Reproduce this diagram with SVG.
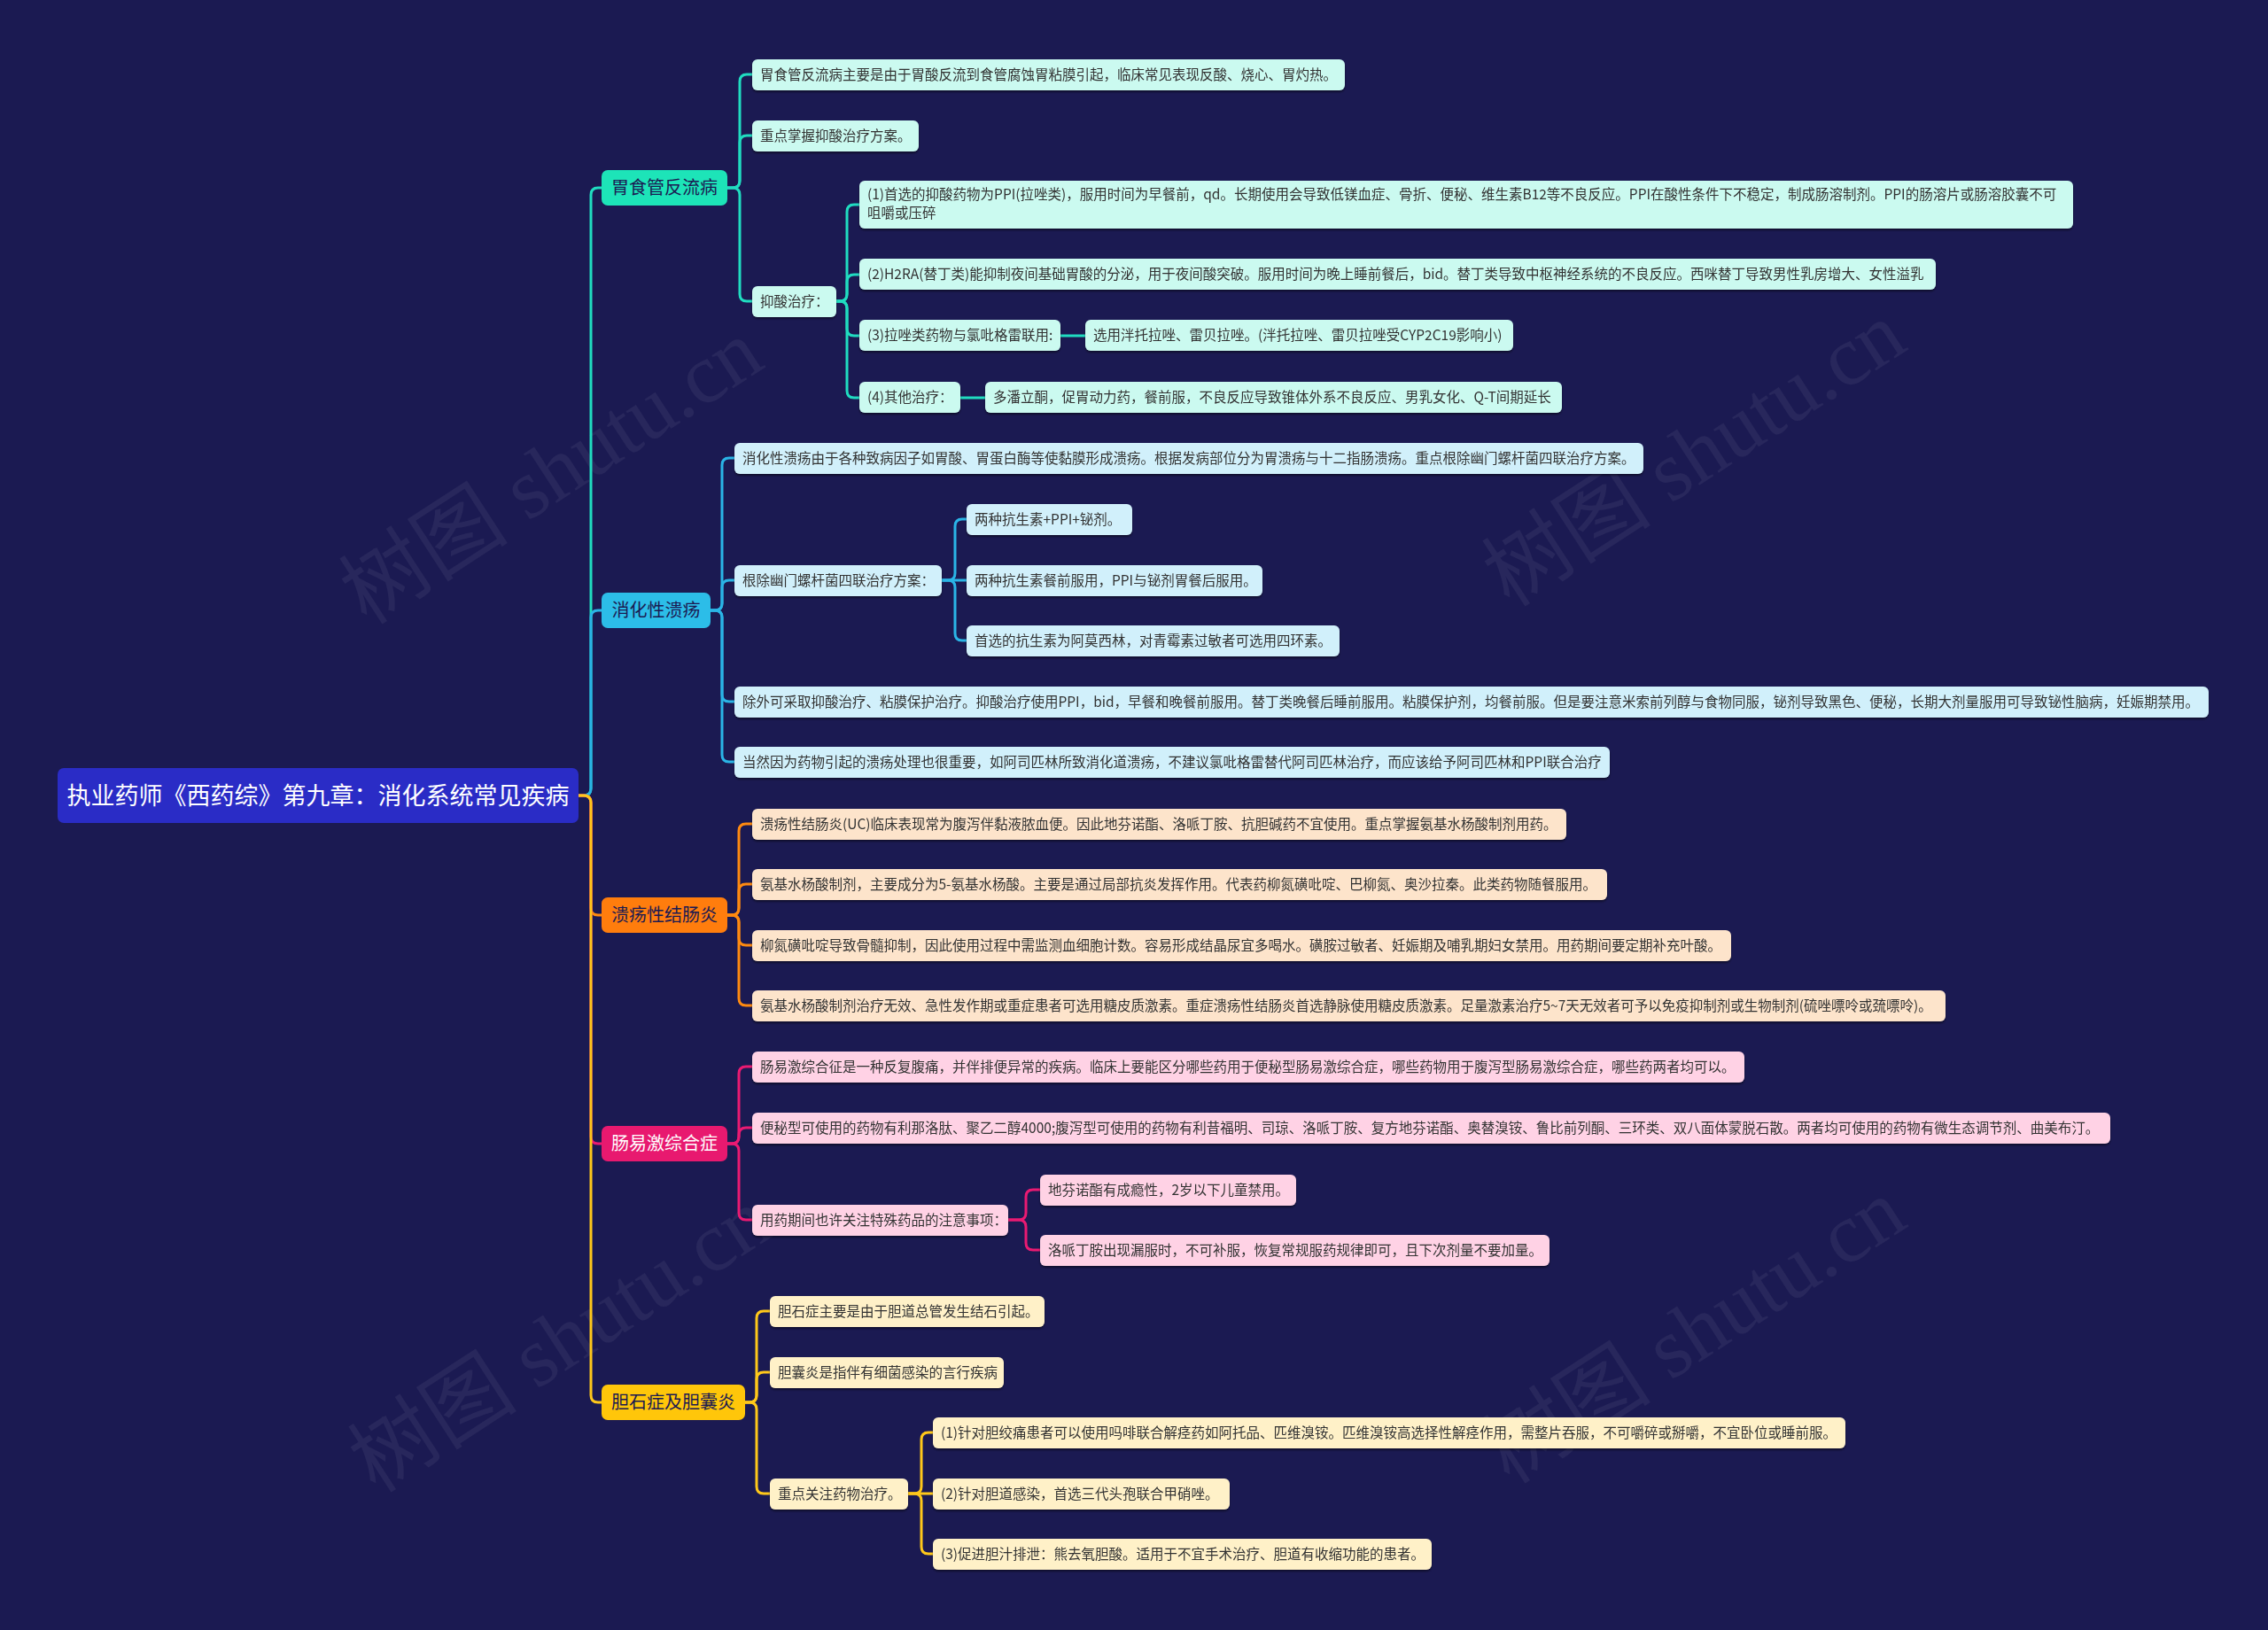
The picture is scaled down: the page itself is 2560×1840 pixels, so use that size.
<svg xmlns="http://www.w3.org/2000/svg" width="2560" height="1840" viewBox="0 0 2560 1840">
<defs>
<filter id="sh" x="-5%" y="-20%" width="110%" height="150%">
<feDropShadow dx="0" dy="2" stdDeviation="1" flood-color="#000" flood-opacity="0.45"/>
</filter>
<style>
.bg{fill:#1b1a52}
.wm{font-family:"Liberation Serif","Noto Sans CJK SC",serif;font-size:96px;fill:#ffffff;fill-opacity:0.06}
.t{font-family:"Noto Sans CJK SC","Noto Sans",sans-serif;font-size:15.5px;fill:#333333}
.bt{font-family:"Noto Sans CJK SC","Noto Sans",sans-serif;font-size:20px;text-anchor:middle}
.rt{font-family:"Noto Sans CJK SC","Noto Sans",sans-serif;font-size:27px;fill:#ffffff;text-anchor:middle}
.lf{filter:url(#sh)}
.c1 path,.c2 path,.c3 path,.c4 path,.c5 path{fill:none;stroke-width:3;stroke-linecap:round;stroke-linejoin:round}
.c1 path{stroke:#20dcc0}
.c2 path{stroke:#2ab4e6}
.c3 path{stroke:#ff8a10}
.c4 path{stroke:#ea1a72}
.c5 path{stroke:#ffc81a}
.f1{fill:#cbfaf0}
.f2{fill:#d1f0fb}
.f3{fill:#fde4cb}
.f4{fill:#ffd2e5}
.f5{fill:#fff1c8}
</style>
</defs>
<rect class="bg" x="0" y="0" width="2560" height="1840"/>
<g id="watermarks">
<text class="wm" transform="translate(640,560) rotate(-33)" text-anchor="middle">树图 shutu.cn</text>
<text class="wm" transform="translate(1930,540) rotate(-33)" text-anchor="middle">树图 shutu.cn</text>
<text class="wm" transform="translate(650,1540) rotate(-33)" text-anchor="middle">树图 shutu.cn</text>
<text class="wm" transform="translate(1930,1530) rotate(-33)" text-anchor="middle">树图 shutu.cn</text>
</g>
<g id="connectors">
<g class="c1">
<path d="M653 898 H659 Q667 898 667 890 V220 Q667 212 675 212 H679"/>
<path d="M821 212 H827 Q835 212 835 204 V92 Q835 84 843 84 H849"/>
<path d="M821 212 H827 Q835 212 835 204 V161 Q835 153 843 153 H849"/>
<path d="M821 212 H827 Q835 212 835 220 V332 Q835 340 843 340 H849"/>
<path d="M944 340 H948 Q956 340 956 332 V239 Q956 231 964 231 H970"/>
<path d="M944 340 H948 Q956 340 956 332 V318 Q956 310 964 310 H970"/>
<path d="M944 340 H948 Q956 340 956 348 V371 Q956 379 964 379 H970"/>
<path d="M944 340 H948 Q956 340 956 348 V441 Q956 449 964 449 H970"/>
<path d="M1197 379 H1225"/>
<path d="M1084 449 H1112"/>
</g>
<g class="c2">
<path d="M653 898 H659 Q667 898 667 890 V697 Q667 689 675 689 H679"/>
<path d="M802 689 H807 Q815 689 815 681 V525 Q815 517 823 517 H829"/>
<path d="M802 689 H807 Q815 689 815 681 V663 Q815 655 823 655 H829"/>
<path d="M802 689 H807 Q815 689 815 697 V784 Q815 792 823 792 H829"/>
<path d="M802 689 H807 Q815 689 815 697 V852 Q815 860 823 860 H829"/>
<path d="M1063 655 H1070 Q1078 655 1078 647 V594 Q1078 586 1086 586 H1091"/>
<path d="M1063 655 H1091"/>
<path d="M1063 655 H1070 Q1078 655 1078 663 V715 Q1078 723 1086 723 H1091"/>
</g>
<g class="c3">
<path d="M653 898 H659 Q667 898 667 906 V1025 Q667 1033 675 1033 H679"/>
<path d="M821 1033 H826 Q834 1033 834 1025 V938 Q834 930 842 930 H849"/>
<path d="M821 1033 H826 Q834 1033 834 1025 V1006 Q834 998 842 998 H849"/>
<path d="M821 1033 H826 Q834 1033 834 1041 V1059 Q834 1067 842 1067 H849"/>
<path d="M821 1033 H826 Q834 1033 834 1041 V1127 Q834 1135 842 1135 H849"/>
</g>
<g class="c4">
<path d="M653 898 H659 Q667 898 667 906 V1283 Q667 1291 675 1291 H679"/>
<path d="M821 1291 H826 Q834 1291 834 1283 V1212 Q834 1204 842 1204 H849"/>
<path d="M821 1291 H826 Q834 1291 834 1283 V1281 Q834 1273 842 1273 H849"/>
<path d="M821 1291 H826 Q834 1291 834 1299 V1369 Q834 1377 842 1377 H849"/>
<path d="M1138 1377 H1150 Q1158 1377 1158 1369 V1351 Q1158 1343 1166 1343 H1174"/>
<path d="M1138 1377 H1150 Q1158 1377 1158 1385 V1403 Q1158 1411 1166 1411 H1174"/>
</g>
<g class="c5">
<path d="M653 898 H659 Q667 898 667 906 V1575 Q667 1583 675 1583 H679"/>
<path d="M841 1583 H846 Q854 1583 854 1575 V1488 Q854 1480 862 1480 H869"/>
<path d="M841 1583 H846 Q854 1583 854 1575 V1557 Q854 1549 862 1549 H869"/>
<path d="M841 1583 H846 Q854 1583 854 1591 V1678 Q854 1686 862 1686 H869"/>
<path d="M1025 1686 H1032 Q1040 1686 1040 1678 V1625 Q1040 1617 1048 1617 H1053"/>
<path d="M1025 1686 H1053"/>
<path d="M1025 1686 H1032 Q1040 1686 1040 1694 V1746 Q1040 1754 1048 1754 H1053"/>
</g>
</g>
<g id="root">
<rect x="65" y="867" width="588" height="62" rx="7" fill="#2a2cc6"/>
<text class="rt" x="359" y="908">执业药师《西药综》第九章：消化系统常见疾病</text>
</g>
<g id="b1">
<rect x="679" y="192" width="142" height="40" rx="7" fill="#1de4b8"/>
<text class="bt" x="750" y="219" fill="#1b1a52">胃食管反流病</text>
</g>
<g id="b1-l1" class="lf"><rect class="f1" x="849" y="67" width="669" height="35" rx="6"/><text class="t" x="858" y="90">胃食管反流病主要是由于胃酸反流到食管腐蚀胃粘膜引起，临床常见表现反酸、烧心、胃灼热。</text></g>
<g id="b1-l2" class="lf"><rect class="f1" x="849" y="136" width="188" height="35" rx="6"/><text class="t" x="858" y="159">重点掌握抑酸治疗方案。</text></g>
<g id="b1-l3" class="lf"><rect class="f1" x="849" y="323" width="95" height="35" rx="6"/><text class="t" x="858" y="346">抑酸治疗：</text></g>
<g id="b1-l3-1" class="lf"><rect class="f1" x="970" y="204" width="1370" height="54" rx="6"/><text class="t" x="979" y="225">(1)首选的抑酸药物为PPI(拉唑类)，服用时间为早餐前，qd。长期使用会导致低镁血症、骨折、便秘、维生素B12等不良反应。PPI在酸性条件下不稳定，制成肠溶制剂。PPI的肠溶片或肠溶胶囊不可</text><text class="t" x="979" y="246">咀嚼或压碎</text></g>
<g id="b1-l3-2" class="lf"><rect class="f1" x="970" y="292" width="1215" height="35" rx="6"/><text class="t" x="979" y="315">(2)H2RA(替丁类)能抑制夜间基础胃酸的分泌，用于夜间酸突破。服用时间为晚上睡前餐后，bid。替丁类导致中枢神经系统的不良反应。西咪替丁导致男性乳房增大、女性溢乳</text></g>
<g id="b1-l3-3" class="lf"><rect class="f1" x="970" y="361" width="227" height="35" rx="6"/><text class="t" x="979" y="384">(3)拉唑类药物与氯吡格雷联用:</text></g>
<g id="b1-l3-3-1" class="lf"><rect class="f1" x="1225" y="361" width="483" height="35" rx="6"/><text class="t" x="1234" y="384">选用泮托拉唑、雷贝拉唑。(泮托拉唑、雷贝拉唑受CYP2C19影响小)</text></g>
<g id="b1-l3-4" class="lf"><rect class="f1" x="970" y="431" width="114" height="35" rx="6"/><text class="t" x="979" y="454">(4)其他治疗：</text></g>
<g id="b1-l3-4-1" class="lf"><rect class="f1" x="1112" y="431" width="651" height="35" rx="6"/><text class="t" x="1121" y="454">多潘立酮，促胃动力药，餐前服，不良反应导致锥体外系不良反应、男乳女化、Q-T间期延长</text></g>
<g id="b2">
<rect x="679" y="669" width="123" height="40" rx="7" fill="#2cbde8"/>
<text class="bt" x="740.5" y="696" fill="#1b1a52">消化性溃疡</text>
</g>
<g id="b2-l1" class="lf"><rect class="f2" x="829" y="500" width="1026" height="35" rx="6"/><text class="t" x="838" y="523">消化性溃疡由于各种致病因子如胃酸、胃蛋白酶等使黏膜形成溃疡。根据发病部位分为胃溃疡与十二指肠溃疡。重点根除幽门螺杆菌四联治疗方案。</text></g>
<g id="b2-l2" class="lf"><rect class="f2" x="829" y="638" width="234" height="35" rx="6"/><text class="t" x="838" y="661">根除幽门螺杆菌四联治疗方案：</text></g>
<g id="b2-l2-1" class="lf"><rect class="f2" x="1091" y="569" width="187" height="35" rx="6"/><text class="t" x="1100" y="592">两种抗生素+PPI+铋剂。</text></g>
<g id="b2-l2-2" class="lf"><rect class="f2" x="1091" y="638" width="334" height="35" rx="6"/><text class="t" x="1100" y="661">两种抗生素餐前服用，PPI与铋剂胃餐后服用。</text></g>
<g id="b2-l2-3" class="lf"><rect class="f2" x="1091" y="706" width="421" height="35" rx="6"/><text class="t" x="1100" y="729">首选的抗生素为阿莫西林，对青霉素过敏者可选用四环素。</text></g>
<g id="b2-l3" class="lf"><rect class="f2" x="829" y="775" width="1664" height="35" rx="6"/><text class="t" x="838" y="798">除外可采取抑酸治疗、粘膜保护治疗。抑酸治疗使用PPI，bid，早餐和晚餐前服用。替丁类晚餐后睡前服用。粘膜保护剂，均餐前服。但是要注意米索前列醇与食物同服，铋剂导致黑色、便秘，长期大剂量服用可导致铋性脑病，妊娠期禁用。</text></g>
<g id="b2-l4" class="lf"><rect class="f2" x="829" y="843" width="988" height="35" rx="6"/><text class="t" x="838" y="866">当然因为药物引起的溃疡处理也很重要，如阿司匹林所致消化道溃疡，不建议氯吡格雷替代阿司匹林治疗，而应该给予阿司匹林和PPI联合治疗</text></g>
<g id="b3">
<rect x="679" y="1013" width="142" height="40" rx="7" fill="#ff7d0d"/>
<text class="bt" x="750" y="1040" fill="#1b1a52">溃疡性结肠炎</text>
</g>
<g id="b3-l1" class="lf"><rect class="f3" x="849" y="913" width="919" height="35" rx="6"/><text class="t" x="858" y="936">溃疡性结肠炎(UC)临床表现常为腹泻伴黏液脓血便。因此地芬诺酯、洛哌丁胺、抗胆碱药不宜使用。重点掌握氨基水杨酸制剂用药。</text></g>
<g id="b3-l2" class="lf"><rect class="f3" x="849" y="981" width="965" height="35" rx="6"/><text class="t" x="858" y="1004">氨基水杨酸制剂，主要成分为5-氨基水杨酸。主要是通过局部抗炎发挥作用。代表药柳氮磺吡啶、巴柳氮、奥沙拉秦。此类药物随餐服用。</text></g>
<g id="b3-l3" class="lf"><rect class="f3" x="849" y="1050" width="1105" height="35" rx="6"/><text class="t" x="858" y="1073">柳氮磺吡啶导致骨髓抑制，因此使用过程中需监测血细胞计数。容易形成结晶尿宜多喝水。磺胺过敏者、妊娠期及哺乳期妇女禁用。用药期间要定期补充叶酸。</text></g>
<g id="b3-l4" class="lf"><rect class="f3" x="849" y="1118" width="1347" height="35" rx="6"/><text class="t" x="858" y="1141">氨基水杨酸制剂治疗无效、急性发作期或重症患者可选用糖皮质激素。重症溃疡性结肠炎首选静脉使用糖皮质激素。足量激素治疗5~7天无效者可予以免疫抑制剂或生物制剂(硫唑嘌呤或巯嘌呤)。</text></g>
<g id="b4">
<rect x="679" y="1271" width="142" height="40" rx="7" fill="#e8196f"/>
<text class="bt" x="750" y="1298" fill="#ffffff">肠易激综合症</text>
</g>
<g id="b4-l1" class="lf"><rect class="f4" x="849" y="1187" width="1120" height="35" rx="6"/><text class="t" x="858" y="1210">肠易激综合征是一种反复腹痛，并伴排便异常的疾病。临床上要能区分哪些药用于便秘型肠易激综合症，哪些药物用于腹泻型肠易激综合症，哪些药两者均可以。</text></g>
<g id="b4-l2" class="lf"><rect class="f4" x="849" y="1256" width="1533" height="35" rx="6"/><text class="t" x="858" y="1279">便秘型可使用的药物有利那洛肽、聚乙二醇4000;腹泻型可使用的药物有利昔福明、司琼、洛哌丁胺、复方地芬诺酯、奥替溴铵、鲁比前列酮、三环类、双八面体蒙脱石散。两者均可使用的药物有微生态调节剂、曲美布汀。</text></g>
<g id="b4-l3" class="lf"><rect class="f4" x="849" y="1360" width="289" height="35" rx="6"/><text class="t" x="858" y="1383">用药期间也许关注特殊药品的注意事项：</text></g>
<g id="b4-l3-1" class="lf"><rect class="f4" x="1174" y="1326" width="289" height="35" rx="6"/><text class="t" x="1183" y="1349">地芬诺酯有成瘾性，2岁以下儿童禁用。</text></g>
<g id="b4-l3-2" class="lf"><rect class="f4" x="1174" y="1394" width="575" height="35" rx="6"/><text class="t" x="1183" y="1417">洛哌丁胺出现漏服时，不可补服，恢复常规服药规律即可，且下次剂量不要加量。</text></g>
<g id="b5">
<rect x="679" y="1563" width="162" height="40" rx="7" fill="#ffc60a"/>
<text class="bt" x="760" y="1590" fill="#1b1a52">胆石症及胆囊炎</text>
</g>
<g id="b5-l1" class="lf"><rect class="f5" x="869" y="1463" width="310" height="35" rx="6"/><text class="t" x="878" y="1486">胆石症主要是由于胆道总管发生结石引起。</text></g>
<g id="b5-l2" class="lf"><rect class="f5" x="869" y="1532" width="264" height="35" rx="6"/><text class="t" x="878" y="1555">胆囊炎是指伴有细菌感染的言行疾病</text></g>
<g id="b5-l3" class="lf"><rect class="f5" x="869" y="1669" width="156" height="35" rx="6"/><text class="t" x="878" y="1692">重点关注药物治疗。</text></g>
<g id="b5-l3-1" class="lf"><rect class="f5" x="1053" y="1600" width="1030" height="35" rx="6"/><text class="t" x="1062" y="1623">(1)针对胆绞痛患者可以使用吗啡联合解痉药如阿托品、匹维溴铵。匹维溴铵高选择性解痉作用，需整片吞服，不可嚼碎或掰嚼，不宜卧位或睡前服。</text></g>
<g id="b5-l3-2" class="lf"><rect class="f5" x="1053" y="1669" width="335" height="35" rx="6"/><text class="t" x="1062" y="1692">(2)针对胆道感染，首选三代头孢联合甲硝唑。</text></g>
<g id="b5-l3-3" class="lf"><rect class="f5" x="1053" y="1737" width="563" height="35" rx="6"/><text class="t" x="1062" y="1760">(3)促进胆汁排泄：熊去氧胆酸。适用于不宜手术治疗、胆道有收缩功能的患者。</text></g>
</svg>
